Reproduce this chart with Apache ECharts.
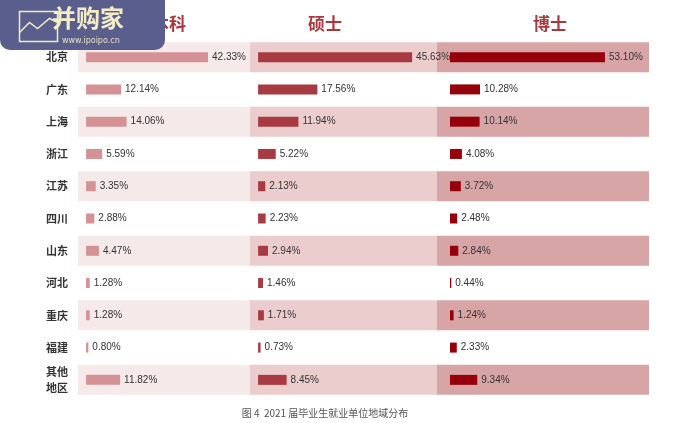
<!DOCTYPE html>
<html>
<head>
    <meta charset="utf-8">
    <title>2021 届毕业生就业单位地域分布</title>
    <script src="https://cdnjs.cloudflare.com/ajax/libs/echarts/6.0.0/echarts.min.js"></script>
    <style>
        html, body { margin: 0; padding: 0; background: #fff; }
        #main { width: 698px; height: 423px; }
    </style>
</head>
<body>
    <div id="main"></div>
    <script type="text/javascript">
        var regions = ['北京', '广东', '上海', '浙江', '江苏', '四川', '山东', '河北', '重庆', '福建', '其他\n地区'];
        var bachelor = [42.33, 12.14, 14.06, 5.59, 3.35, 2.88, 4.47, 1.28, 1.28, 0.80, 11.82];
        var master = [45.63, 17.56, 11.94, 5.22, 2.13, 2.23, 2.94, 1.46, 1.71, 0.73, 8.45];
        var doctor = [53.10, 10.28, 10.14, 4.08, 3.72, 2.48, 2.84, 0.44, 1.24, 2.33, 9.34];
        var titles = ['本科', '硕士', '博士'];
        var stripe = [1, 0, 1, 0, 1, 0, 1, 0, 1, 0, 1];

        var panels = [
            { left: 78, width: 172, min: -2.8, max: 56.9, bar: '#d49294', bg: '#f6e9ea', data: bachelor },
            { left: 250, width: 187, min: -2.4, max: 53, bar: '#a83a42', bg: '#ebcdce', data: master },
            { left: 437, width: 212, min: -4.45, max: 68.2, bar: '#96000a', bg: '#d8a5a7', data: doctor }
        ];

        var grid = [], xAxis = [], yAxis = [], series = [];
        panels.forEach(function (p, i) {
            // stripe grid (index 2i) and bar grid (index 2i+1) share the same rectangle
            for (var k = 0; k < 2; k++) {
                var g = i * 2 + k;
                grid.push({ left: p.left, width: p.width, top: 41, height: 355 });
                xAxis.push(k === 0
                    ? { gridIndex: g, type: 'value', min: 0, max: 1, show: false }
                    : { gridIndex: g, type: 'value', min: p.min, max: p.max, show: false });
                yAxis.push({
                    gridIndex: g, type: 'category', data: regions, inverse: true,
                    axisLine: { show: false }, axisTick: { show: false }, splitLine: { show: false },
                    axisLabel: {
                        show: i === 0 && k === 1, color: '#333', fontSize: 11, fontWeight: 'bold',
                        margin: 10, lineHeight: 16, fontFamily: 'Noto Sans CJK SC'
                    }
                });
            }
            series.push({
                type: 'bar', xAxisIndex: i * 2, yAxisIndex: i * 2, data: stripe,
                barWidth: '93%', silent: true, z: 1,
                itemStyle: { color: p.bg }
            });
            series.push({
                type: 'bar', xAxisIndex: i * 2 + 1, yAxisIndex: i * 2 + 1, data: p.data,
                barWidth: 10, z: 3,
                itemStyle: { color: p.bar },
                label: {
                    show: true, position: 'right', distance: 4, color: '#333', fontSize: 10,
                    fontFamily: 'Liberation Sans',
                    formatter: function (d) { return d.value.toFixed(2) + '%'; }
                }
            });
        });

        var myChart = echarts.init(document.getElementById('main'));
        var option = {
            backgroundColor: '#fff',
            animation: false,
            grid: grid,
            xAxis: xAxis,
            yAxis: yAxis,
            series: series,
            title: [
                { text: titles[0], left: 164, top: 10, textAlign: 'center', textStyle: { color: '#a8383f', fontSize: 17, fontFamily: 'Noto Sans CJK SC' } },
                { text: titles[1], left: 320, top: 10, textAlign: 'center', textStyle: { color: '#a8383f', fontSize: 17, fontFamily: 'Noto Sans CJK SC' } },
                { text: titles[2], left: 545, top: 10, textAlign: 'center', textStyle: { color: '#a8383f', fontSize: 17, fontFamily: 'Noto Sans CJK SC' } },
                { text: '图 4  2021 届毕业生就业单位地域分布', left: 320, top: 403, textAlign: 'center', textStyle: { color: '#555', fontSize: 10, fontWeight: 'normal', fontFamily: 'Noto Sans CJK SC' } }
            ],
            graphic: [
                { type: 'rect', left: 0, top: -10, shape: { width: 165, height: 60, r: 10 }, style: { fill: '#5a5e8c' }, z: 100 },
                { type: 'text', left: 52, top: 6, style: { text: '并购家', fill: '#f3ecc4', font: 'bold 24px "Noto Sans CJK SC"' }, z: 101 },
                { type: 'text', left: 62, top: 37, style: { text: 'www.ipoipo.cn', fill: '#e8e2c0', font: '8px "DejaVu Sans"' }, z: 101 },
                { type: 'rect', left: 17, top: 9, shape: { width: 38, height: 30 }, style: { fill: 'none', stroke: '#f3ecc4', lineWidth: 1.5 }, z: 101 },
                { type: 'polyline', left: 17, top: 16, shape: { points: [[0, 20], [10, 10], [18, 16], [30, 6], [38, 10]] }, style: { fill: 'none', stroke: '#f3ecc4', lineWidth: 1.5 }, z: 101 }
            ]
        };
        myChart.setOption(option);
    </script>
</body>
</html>
